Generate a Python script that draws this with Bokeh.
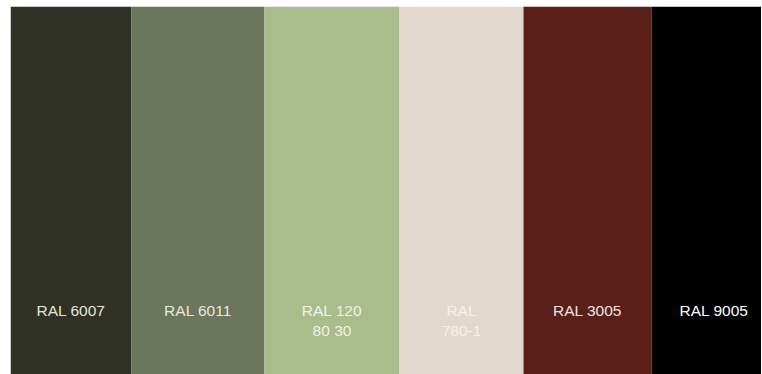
from bokeh.plotting import figure
from bokeh.models import ColumnDataSource, Range1d
from bokeh.core.properties import value
from bokeh.embed import file_html
from bokeh.resources import INLINE
import numpy as np

# data
labels = ["RAL 6007", "RAL 6011", "RAL 120\n80 30", "RAL\n780-1", "RAL 3005", "RAL 9005"]
swatch_colors = ["#2e3124", "#6b775a", "#a9bd8c", "#e2d9cc", "#5b1f1a", "#000000"]
label_colors = ["#e4e4da", "#e8eadc", "#f0f3e6", "#f4f1ec", "#ece4e0", "#ffffff"]
fill_height = [1, 1, 1, 1, 1, 1]

# layout (pixel widths of each swatch band)
band_widths = [121, 133, 135, 124, 128, 125]
edges = np.concatenate([[0], np.cumsum(band_widths)])
lefts = edges[:-1]
rights = edges[1:]
centers = (lefts + rights) / 2.0

W, H = 761, 374
p = figure(width=W, height=H, output_backend="svg", toolbar_location=None,
           x_range=Range1d(0, 751), y_range=Range1d(0, 1),
           min_border_left=10, min_border_right=0, min_border_top=6, min_border_bottom=0)
p.axis.visible = False
p.grid.visible = False
p.outline_line_color = None
p.background_fill_color = "white"
p.border_fill_color = "white"

src = ColumnDataSource(dict(left=lefts, right=rights, top=fill_height,
                            bottom=[0] * len(fill_height), color=swatch_colors,
                            x=centers, y=[0.197] * len(labels), text=labels,
                            tcolor=label_colors))
p.quad(left="left", right="right", top="top", bottom="bottom", fill_color="color",
       line_color=None, source=src)
p.text(x="x", y="y", text="text", source=src, text_color="tcolor",
       text_align="center", text_baseline="top", text_font=value("Liberation Sans"),
       text_font_size="15.5px", text_line_height=1.2)

open("out.html", "w").write(file_html(p, INLINE))
